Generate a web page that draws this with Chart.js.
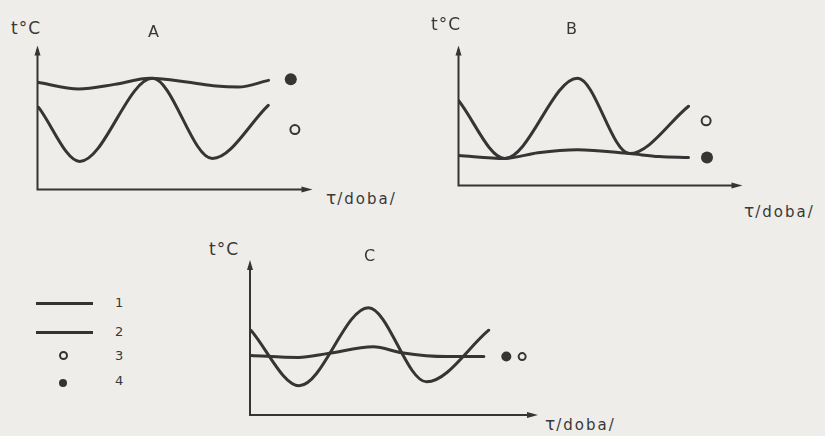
<!DOCTYPE html>
<html>
<head>
<meta charset="utf-8">
<script src="https://cdn.jsdelivr.net/npm/chart.js@4.4.0/dist/chart.umd.min.js"></script>
<style>
  body { margin: 0; background: #eeede9; }
  #page { position: relative; width: 825px; height: 436px; overflow: hidden; background: #eeede9;
          font-family: 'DejaVu Sans', sans-serif; color: #383838; }
  canvas { position: absolute; }
  .lbl { position: absolute; font-size: 16px; line-height: 16px; white-space: nowrap; }
  .tc { font-size: 17px; letter-spacing: 1px; }
  .tau { font-size: 17px; letter-spacing: 1px; }
  .doba { font-size: 15px; letter-spacing: 2px; }
  .legline { position: absolute; height: 3px; background: #333; width: 57px; left: 36px; }
  .legnum { position: absolute; left: 115px; font-size: 13px; line-height: 13px; }
  .dot { position: absolute; border-radius: 50%; }
</style>
</head>
<body>
<div id="page">
  <canvas id="chartA" width="288" height="157" style="left:31px;top:39px"></canvas>
  <canvas id="chartB" width="297" height="153" style="left:452px;top:39px"></canvas>
  <canvas id="chartC" width="300" height="167" style="left:244px;top:254px"></canvas>

  <div class="lbl tc" style="left:11px;top:20px">t°C</div>
  <div class="lbl" style="left:148px;top:24px">A</div>
  <div class="lbl" style="left:326px;top:190px"><span class="tau">τ</span><span class="doba">/doba/</span></div>

  <div class="lbl tc" style="left:431px;top:16px">t°C</div>
  <div class="lbl" style="left:566px;top:21px">B</div>
  <div class="lbl" style="left:744px;top:203px"><span class="tau">τ</span><span class="doba">/doba/</span></div>

  <div class="lbl tc" style="left:209px;top:241px">t°C</div>
  <div class="lbl" style="left:364px;top:248px">C</div>
  <div class="lbl" style="left:545px;top:416px"><span class="tau">τ</span><span class="doba">/doba/</span></div>

  <!-- legend -->
  <div class="legline" style="top:302px"></div>
  <div class="legnum" style="top:296px">1</div>
  <div class="legline" style="top:331px"></div>
  <div class="legnum" style="top:325px">2</div>
  <div class="dot" style="left:59px;top:351px;width:5px;height:5px;border:2px solid #333"></div>
  <div class="legnum" style="top:349px">3</div>
  <div class="dot" style="left:59px;top:379px;width:8px;height:8px;background:#333"></div>
  <div class="legnum" style="top:374px">4</div>
</div>

<script>
// curves, x and y in axis units 0..10
const fastA = [[0.04,5.7],[1.54,1.95],[4.18,7.72],[6.36,2.15],[8.39,5.84]];
const slowA = [[0,7.45],[1.5,6.98],[2.8,7.3],[4.1,7.72],[5.5,7.45],[6.5,7.18],[7.3,7.11],[8.4,7.58]];
const filledA = [[9.21,7.65]];
const openA = [[9.36,4.16]];

const fastB = [[0,6.07],[1.63,1.93],[4.19,7.66],[6.02,2.28],[8.1,5.66]];
const slowB = [[0,2.14],[1.63,1.93],[2.8,2.34],[4.19,2.55],[6.02,2.28],[7.06,2.07],[8.1,2.0]];
const filledB = [[8.75,2.0]];
const openB = [[8.72,4.62]];

const fastC = [[0.03,5.47],[1.71,1.89],[4.11,6.92],[6.13,2.14],[8.29,5.47]];
const slowC = [[0.03,3.84],[1.68,3.71],[2.71,3.97],[4.28,4.4],[5.27,4.02],[6.82,3.77],[8.12,3.77]];
const filledC = [[8.9,3.77]];
const openC = [[9.45,3.77]];

const ink = '#353535';
const paper = '#eeede9';

function pts(arr) {
    return arr.map(p => ({x: p[0], y: p[1]}));
}

// draws the two axes with arrow heads
const arrowAxes = {
    id: 'arrowAxes',
    afterDraw(chart) {
        const ctx = chart.ctx;
        const x0 = chart.scales.x.getPixelForValue(0);
        const x1 = chart.scales.x.getPixelForValue(10);
        const y0 = chart.scales.y.getPixelForValue(0);
        const y1 = chart.scales.y.getPixelForValue(10);
        ctx.save();
        ctx.strokeStyle = ink;
        ctx.fillStyle = ink;
        ctx.lineWidth = 2;
        ctx.beginPath();
        ctx.moveTo(x0, y1 + 4);
        ctx.lineTo(x0, y0);
        ctx.lineTo(x1 - 6, y0);
        ctx.stroke();
        ctx.beginPath();
        ctx.moveTo(x0, y1);
        ctx.lineTo(x0 - 3, y1 + 10);
        ctx.lineTo(x0 + 3, y1 + 10);
        ctx.closePath();
        ctx.fill();
        ctx.beginPath();
        ctx.moveTo(x1, y0);
        ctx.lineTo(x1 - 11, y0 - 3);
        ctx.lineTo(x1 - 11, y0 + 3);
        ctx.closePath();
        ctx.fill();
        ctx.restore();
    }
};

function makeChart(id, fast, slow, filled, open, dotR) {
    const curve = {
        type: 'line',
        borderColor: ink,
        borderWidth: 3,
        pointRadius: 0,
        cubicInterpolationMode: 'monotone',
        borderCapStyle: 'round',
        borderJoinStyle: 'round',
        fill: false
    };
    new Chart(document.getElementById(id), {
        type: 'line',
        data: {
            datasets: [
                Object.assign({label: '1', data: pts(fast)}, curve),
                Object.assign({label: '2', data: pts(slow)}, curve),
                {label: '4', data: pts(filled), showLine: false, pointRadius: dotR,
                 backgroundColor: ink, borderColor: ink, borderWidth: 0},
                {label: '3', data: pts(open), showLine: false, pointRadius: dotR - 1.5,
                 backgroundColor: paper, borderColor: ink, borderWidth: 2}
            ]
        },
        options: {
            responsive: false,
            animation: false,
            events: [],
            layout: { padding: 4 },
            plugins: {
                legend: { display: false },
                tooltip: { enabled: false }
            },
            scales: {
                x: { type: 'linear', min: 0, max: 10, display: false },
                y: { min: 0, max: 10, display: false }
            }
        },
        plugins: [arrowAxes]
    });
}

makeChart('chartA', fastA, slowA, filledA, openA, 6);
makeChart('chartB', fastB, slowB, filledB, openB, 6);
makeChart('chartC', fastC, slowC, filledC, openC, 5);
</script>
</body>
</html>
